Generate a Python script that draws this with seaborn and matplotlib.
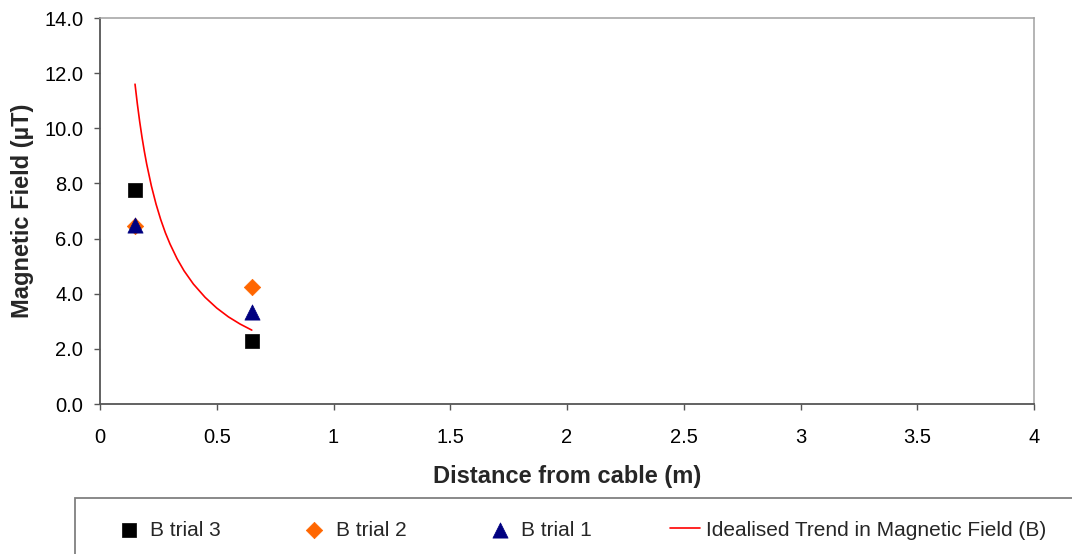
import matplotlib
matplotlib.use("Agg")
import matplotlib.pyplot as plt
from matplotlib.patches import Rectangle
import seaborn as sns
import pandas as pd

# Data
distance = [0.15, 0.65]
b_trial3 = [7.76, 2.28]
b_trial2 = [6.45, 4.25]
b_trial1 = [6.48, 3.32]

trend_x = [0.15, 0.16, 0.17, 0.18, 0.19, 0.20, 0.22, 0.24, 0.26, 0.28, 0.30,
           0.33, 0.36, 0.40, 0.45, 0.50, 0.55, 0.60, 0.65]
trend_b = [11.6, 10.88, 10.24, 9.67, 9.16, 8.70, 7.91, 7.25, 6.69, 6.21, 5.80,
           5.27, 4.83, 4.35, 3.87, 3.48, 3.16, 2.90, 2.68]

x_ticks = [0, 0.5, 1, 1.5, 2, 2.5, 3, 3.5, 4]
x_tick_labels = ["0", "0.5", "1", "1.5", "2", "2.5", "3", "3.5", "4"]
y_ticks = [0, 2, 4, 6, 8, 10, 12, 14]

sns.set_theme(style="white")
plt.rcParams['font.family'] = ['Liberation Sans', 'DejaVu Sans']

W, H = 1072, 554
fig = plt.figure(figsize=(W / 100, H / 100), dpi=100)
ax = fig.add_axes([100/W, 1 - 404/H, (1034-100)/W, (404-18)/H])

df3 = pd.DataFrame({"x": distance, "y": b_trial3})
df2 = pd.DataFrame({"x": distance, "y": b_trial2})
df1 = pd.DataFrame({"x": distance, "y": b_trial1})
dft = pd.DataFrame({"x": trend_x, "y": trend_b})

sns.scatterplot(data=df3, x="x", y="y", ax=ax, marker="s", s=110, color="black",
                edgecolor="black", linewidth=0.5, label="B trial 3", zorder=3)
sns.scatterplot(data=df2, x="x", y="y", ax=ax, marker="D", s=70, color="#FF6600",
                edgecolor="#FF6600", linewidth=0.5, label="B trial 2", zorder=4)
sns.scatterplot(data=df1, x="x", y="y", ax=ax, marker="^", s=120, color="#000080",
                edgecolor="#000080", linewidth=0.5, label="B trial 1", zorder=5)
sns.lineplot(data=dft, x="x", y="y", ax=ax, color="#FF0000", linewidth=1.2,
             sort=False, estimator=None, label="Idealised Trend in Magnetic Field (B)",
             zorder=2)

ax.set_xlim(0, 4)
ax.set_ylim(0, 14)
ax.set_xticks(x_ticks)
ax.set_xticklabels(x_tick_labels)
ax.set_yticks(y_ticks)
ax.set_yticklabels([f"{v:.1f}" for v in y_ticks])

for s in ["top", "right"]:
    ax.spines[s].set_color("#a0a0a0")
    ax.spines[s].set_linewidth(1.1)
for s in ["left", "bottom"]:
    ax.spines[s].set_color("#555555")
    ax.spines[s].set_linewidth(1.3)

ax.tick_params(axis="both", which="major", direction="out", length=4.5, width=1,
               color="#555555", labelsize=14.5, labelcolor="black",
               left=True, bottom=True)
ax.tick_params(axis="y", pad=7.5)
ax.tick_params(axis="x", pad=13)

ax.set_xlabel("Distance from cable (m)", fontsize=17, fontweight="bold", labelpad=12.5)
ax.set_ylabel("Magnetic Field (\u00b5T)", fontsize=17, fontweight="bold", labelpad=7)
ax.grid(False)

handles, labels = ax.get_legend_handles_labels()
ax.legend_.remove()
leg = fig.legend(handles, labels, loc="center left",
                 bbox_to_anchor=(114/W, 1 - 530/H),
                 ncol=4, fontsize=15, frameon=False, borderaxespad=0, borderpad=0,
                 handlelength=1.45, handletextpad=0.3, columnspacing=3.75)

# legend box (extends beyond right and bottom edges as in the reference)
fig.patches.append(Rectangle((75/W, -0.05), 1.1, (1 - 498/H) + 0.05,
                             transform=fig.transFigure, fill=False,
                             edgecolor="#808080", linewidth=1.3))

fig.savefig("out.png", dpi=100)
